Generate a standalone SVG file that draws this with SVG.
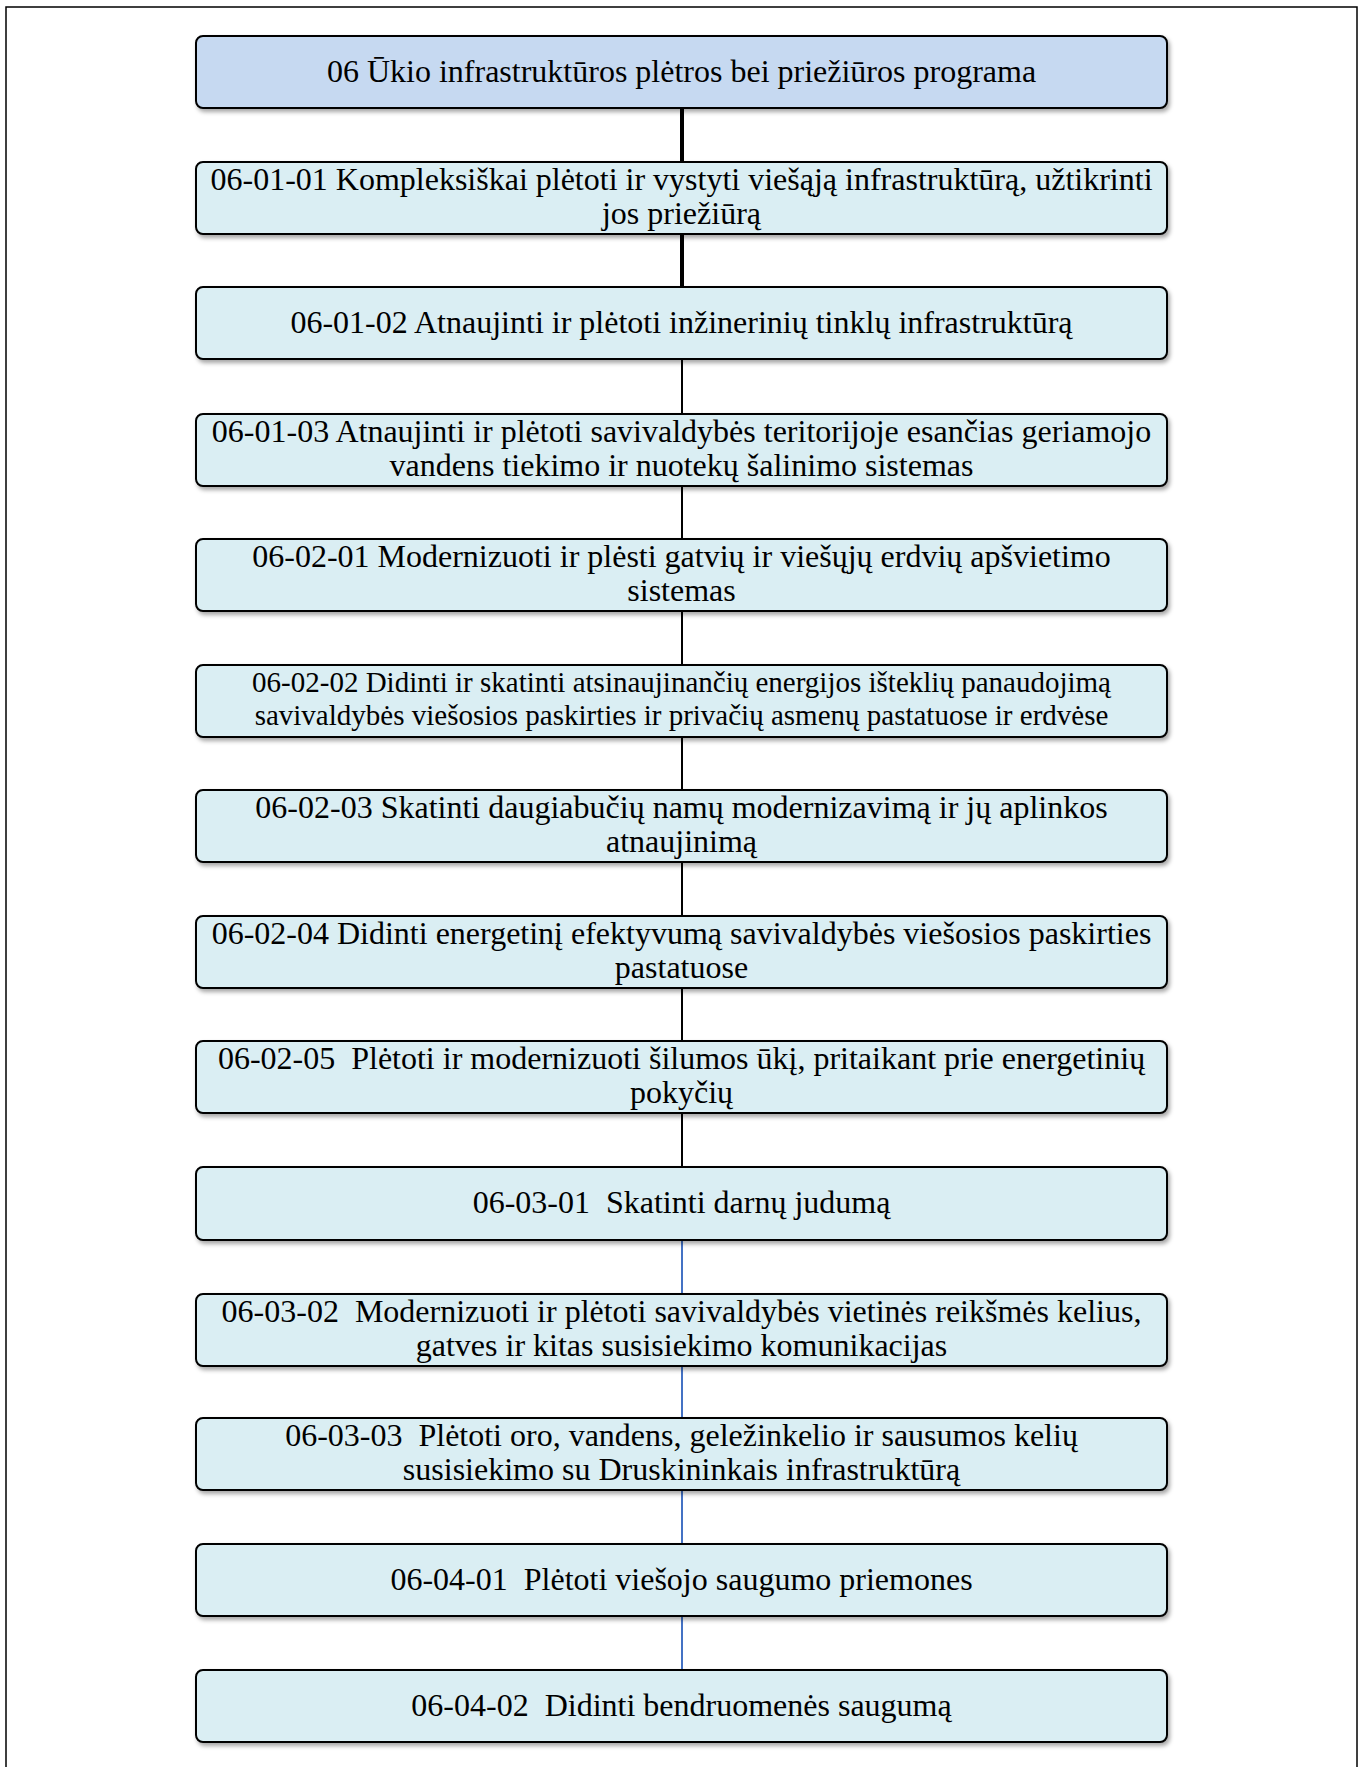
<svg xmlns="http://www.w3.org/2000/svg" width="1365" height="1767" viewBox="0 0 1365 1767">
<style>
.box{fill:#DAEEF3;stroke:#000;stroke-width:2;filter:url(#sh)}
.top{fill:#C6D9F1}
text{font-family:"Liberation Serif","Times New Roman",serif;font-size:32px;fill:#000;text-anchor:middle;white-space:pre}
.sm{font-size:29px}
.thick{stroke:#000;stroke-width:4}
.thin{stroke:#000;stroke-width:2}
.blue{stroke:#4472C4;stroke-width:2}
</style>
<defs>
<filter id="sh" x="-5%" y="-20%" width="110%" height="150%">
<feDropShadow dx="2" dy="3" stdDeviation="2" flood-color="#000" flood-opacity="0.35"/>
</filter>
</defs>
<rect x="0" y="0" width="1365" height="1767" fill="#fff"/>
<rect x="6" y="7" width="1351" height="1800" fill="none" stroke="#000" stroke-width="1.5"/>
<g id="connectors">
<line class="thick" x1="682" y1="108" x2="682" y2="162"/>
<line class="thick" x1="682" y1="234" x2="682" y2="287"/>
<line class="thin" x1="682" y1="359" x2="682" y2="414"/>
<line class="thin" x1="682" y1="486" x2="682" y2="539"/>
<line class="thin" x1="682" y1="611" x2="682" y2="665"/>
<line class="thin" x1="682" y1="737" x2="682" y2="790"/>
<line class="thin" x1="682" y1="862" x2="682" y2="916"/>
<line class="thin" x1="682" y1="988" x2="682" y2="1041"/>
<line class="thin" x1="682" y1="1113" x2="682" y2="1167"/>
<line class="blue" x1="682" y1="1240" x2="682" y2="1294"/>
<line class="blue" x1="682" y1="1366" x2="682" y2="1418"/>
<line class="blue" x1="682" y1="1490" x2="682" y2="1544"/>
<line class="blue" x1="682" y1="1616" x2="682" y2="1670"/>
</g>
<g id="n1"><rect class="box top" x="196" y="36" width="971" height="72" rx="7"/><text x="681.5" y="82">06 Ūkio infrastruktūros plėtros bei priežiūros programa</text></g>
<g id="n2"><rect class="box" x="196" y="162" width="971" height="72" rx="7"/><text x="681.5" y="190">06-01-01 Kompleksiškai plėtoti ir vystyti viešąją infrastruktūrą, užtikrinti</text><text x="681.5" y="224">jos priežiūrą</text></g>
<g id="n3"><rect class="box" x="196" y="287" width="971" height="72" rx="7"/><text x="681.5" y="333">06-01-02 Atnaujinti ir plėtoti inžinerinių tinklų infrastruktūrą</text></g>
<g id="n4"><rect class="box" x="196" y="414" width="971" height="72" rx="7"/><text x="681.5" y="442">06-01-03 Atnaujinti ir plėtoti savivaldybės teritorijoje esančias geriamojo</text><text x="681.5" y="476">vandens tiekimo ir nuotekų šalinimo sistemas</text></g>
<g id="n5"><rect class="box" x="196" y="539" width="971" height="72" rx="7"/><text x="681.5" y="567">06-02-01 Modernizuoti ir plėsti gatvių ir viešųjų erdvių apšvietimo</text><text x="681.5" y="601">sistemas</text></g>
<g id="n6"><rect class="box" x="196" y="665" width="971" height="72" rx="7"/><text class="sm" x="681.5" y="692">06-02-02 Didinti ir skatinti atsinaujinančių energijos išteklių panaudojimą</text><text class="sm" x="681.5" y="725">savivaldybės viešosios paskirties ir privačių asmenų pastatuose ir erdvėse</text></g>
<g id="n7"><rect class="box" x="196" y="790" width="971" height="72" rx="7"/><text x="681.5" y="818">06-02-03 Skatinti daugiabučių namų modernizavimą ir jų aplinkos</text><text x="681.5" y="852">atnaujinimą</text></g>
<g id="n8"><rect class="box" x="196" y="916" width="971" height="72" rx="7"/><text x="681.5" y="944">06-02-04 Didinti energetinį efektyvumą savivaldybės viešosios paskirties</text><text x="681.5" y="978">pastatuose</text></g>
<g id="n9"><rect class="box" x="196" y="1041" width="971" height="72" rx="7"/><text x="681.5" y="1069">06-02-05  Plėtoti ir modernizuoti šilumos ūkį, pritaikant prie energetinių</text><text x="681.5" y="1103">pokyčių</text></g>
<g id="n10"><rect class="box" x="196" y="1167" width="971" height="73" rx="7"/><text x="681.5" y="1213">06-03-01  Skatinti darnų judumą</text></g>
<g id="n11"><rect class="box" x="196" y="1294" width="971" height="72" rx="7"/><text x="681.5" y="1322">06-03-02  Modernizuoti ir plėtoti savivaldybės vietinės reikšmės kelius,</text><text x="681.5" y="1356">gatves ir kitas susisiekimo komunikacijas</text></g>
<g id="n12"><rect class="box" x="196" y="1418" width="971" height="72" rx="7"/><text x="681.5" y="1446">06-03-03  Plėtoti oro, vandens, geležinkelio ir sausumos kelių</text><text x="681.5" y="1480">susisiekimo su Druskininkais infrastruktūrą</text></g>
<g id="n13"><rect class="box" x="196" y="1544" width="971" height="72" rx="7"/><text x="681.5" y="1590">06-04-01  Plėtoti viešojo saugumo priemones</text></g>
<g id="n14"><rect class="box" x="196" y="1670" width="971" height="72" rx="7"/><text x="681.5" y="1716">06-04-02  Didinti bendruomenės saugumą</text></g>
</svg>
